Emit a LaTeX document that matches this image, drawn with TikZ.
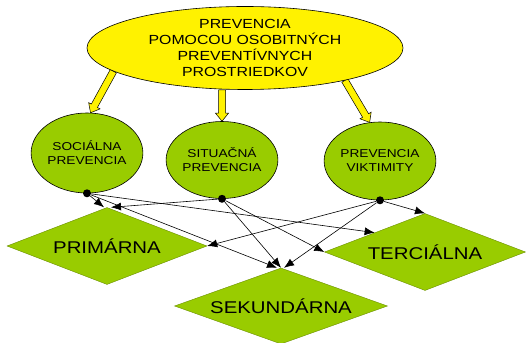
\documentclass[tikz,border=0pt]{standalone}
\usepackage{fontspec}
\setmainfont[FakeStretch=1.2]{Liberation Sans}
\usepackage{tikz}
\usetikzlibrary{shapes.geometric}
\usetikzlibrary{arrows.meta}
\usetikzlibrary{calc,backgrounds}
\definecolor{prevgreen}{RGB}{153,204,0}
\tikzset{
  topell/.style={ellipse, draw, fill=yellow, line width=0.6pt, inner sep=0pt,
    minimum width=316pt, minimum height=83pt, align=center,
    font=\fontsize{13.2}{15.7}\selectfont},
  kind/.style={ellipse, draw, fill=prevgreen, line width=0.6pt, inner sep=0pt,
    align=center, font=\fontsize{11.4}{14}\selectfont},
  level/.style={diamond, aspect=2.6, draw=prevgreen!70!black, fill=prevgreen,
    line width=0.4pt, inner sep=0pt, font=\fontsize{17}{20}\selectfont},
  dot/.style={circle, fill=black, inner sep=0pt, minimum size=8pt},
  link/.style={-{Latex[length=10pt,width=8pt]}, line width=0.6pt},
  blockarr/.style={draw=black, fill=yellow, line width=0.5pt}
}
% thick yellow arrow from #1 to #2
\newcommand{\blockarrow}[2]{%
  \coordinate (hb) at ($(#2)!8pt!(#1)$);
  \draw[blockarr] ($(#1)!3.5pt!90:(#2)$) -- ($(hb)!3.5pt!90:(#2)$)
    -- ($(hb)!6.5pt!90:(#2)$) -- (#2) -- ($(hb)!6.5pt!-90:(#2)$)
    -- ($(hb)!3.5pt!-90:(#2)$) -- ($(#1)!3.5pt!-90:(#2)$) -- cycle;}

\begin{document}
\begin{tikzpicture}[x=1pt,y=1pt]
\useasboundingbox (0,0) rectangle (526,342);
\node[topell] (prev) at (245,294) {PREVENCIA\\POMOCOU OSOBITNÝCH\\PREVENTÍVNYCH\\PROSTRIEDKOV};
\node[kind, minimum width=97pt, minimum height=80pt] (soc) at (87,189) {SOCIÁLNA\\PREVENCIA};
\node[kind, minimum width=98pt, minimum height=77pt] (sit) at (222,182) {SITUAČNÁ\\PREVENCIA};
\node[kind, minimum width=98pt, minimum height=78pt] (vik) at (380,181) {PREVENCIA\\VIKTIMITY};
\node[level, minimum width=200pt, minimum height=77pt] (prim) at (107,96) {PRIMÁRNA};
\node[level, minimum width=213pt, minimum height=76pt] (sek) at (281,36) {SEKUNDÁRNA};
\node[level, minimum width=201pt, minimum height=77pt] (terc) at (425,90) {TERCIÁLNA};
\begin{scope}[on background layer]
\blockarrow{prev.190}{soc.85}
\blockarrow{sit.north |- prev.south}{sit.north}
\blockarrow{prev.-18}{vik.105}
\end{scope}
\node[dot] (d1) at (soc.south) {};
\node[dot] (d2) at (sit.south) {};
\node[dot] (d3) at (vik.south) {};
%\draw[link] (d1) -- (prim.north);
\draw[link] (d1) -- ([xshift=-3pt]prim.north);
\draw[link] (d1) -- ([xshift=-4pt]sek.north);
\draw[link] (d1) -- (terc.north west);
\draw[link] (d2) -- ([xshift=4pt]prim.north);
\draw[link] (d2) -- (sek.north);
\draw[link] (d2) -- (terc.west);
\draw[link] (d3) -- (prim.east);
\draw[link] (d3) -- ([xshift=3pt]sek.north);
\draw[link] (d3) -- (terc.north);
\end{tikzpicture}
\end{document}
